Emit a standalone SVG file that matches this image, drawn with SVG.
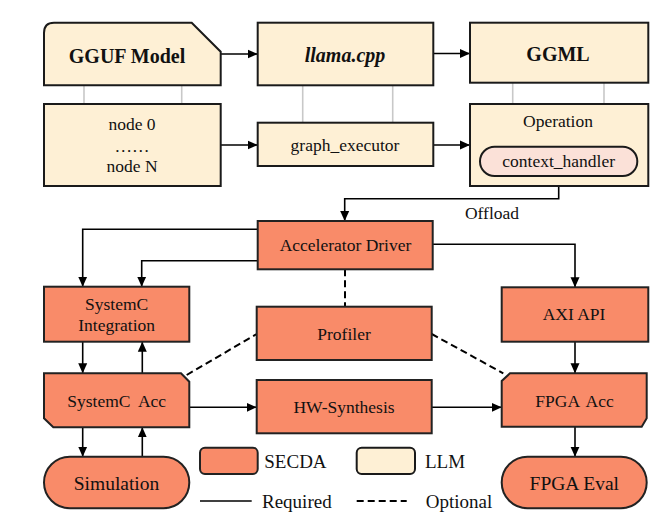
<svg xmlns="http://www.w3.org/2000/svg" width="667" height="527" viewBox="0 0 667 527">
<defs>
<marker id="ah" markerUnits="userSpaceOnUse" markerWidth="10" markerHeight="10" viewBox="0 0 10 10" refX="10" refY="5" orient="auto-start-reverse">
<path d="M0,0.5 L10,5 L0,9.5 Z" fill="#000"/>
</marker>
<style>
.llm{fill:#FEF0D5;stroke:#1a1a1a;stroke-width:2}
.sec{fill:#F98B69;stroke:#222;stroke-width:2}
.t{font-family:"Liberation Serif","Times New Roman",serif;fill:#111;text-anchor:middle;font-size:17.5px}
.b{font-weight:bold;font-size:20px}
.big{font-size:19.5px}
.lg{font-family:"Liberation Serif","Times New Roman",serif;fill:#111;font-size:19px}
.ar{fill:none;stroke:#000;stroke-width:1.6;marker-end:url(#ah)}
.ds{fill:none;stroke:#000;stroke-width:2;stroke-dasharray:7 4}
.gr{fill:none;stroke:#C8C8C8;stroke-width:1.6}
</style>
</defs>
<rect width="667" height="527" fill="#fff"/>

<g id="connectors">
<path class="gr" d="M84,85.3 V104 M181.7,85.3 V104 M302.7,85.3 V122.7 M392.7,85.3 V122.7 M512.7,82.7 V104 M604,82.7 V104"/>
<path class="ar" d="M220.7,54 H257.7"/>
<path class="ar" d="M433.3,53.5 H470"/>
<path class="ar" d="M220.7,145 H257.7"/>
<path class="ar" d="M433.3,145 H470"/>
<path class="ar" style="marker-start:url(#ah)" d="M344.7,221 V198.7 H558.7 V176"/>
<path class="ar" d="M257.7,229.3 H82.7 V286.7"/>
<path class="ar" d="M257.7,260.7 H141.7 V286.7"/>
<path class="ar" d="M432.7,244.3 H575 V287.3"/>
<path class="ds" d="M345,269.3 V306.7"/>
<path class="ar" d="M82.7,341.7 V373.3"/>
<path class="ar" d="M142.3,373.3 V341.7"/>
<path class="ar" d="M82.7,427.3 V456.7"/>
<path class="ar" d="M142.3,456.7 V427.3"/>
<path class="ar" d="M189.3,407.3 H256.7"/>
<path class="ar" d="M431.7,407.3 H501.7"/>
<path class="ar" d="M575,341.7 V373.3"/>
<path class="ar" d="M575,426.7 V456.7"/>
<path class="ds" d="M186.7,375 L256.7,334"/>
<path class="ds" d="M431.7,334 L503.3,373.3"/>
<text class="t" x="492" y="219" font-size="17">Offload</text>
</g>

<g id="gguf">
<path class="llm" d="M44,33 Q44,22.7 54,22.7 L191.7,22.7 L220.7,51.7 L220.7,85.3 L44,85.3 Z"/>
<text class="t b" x="127" y="63">GGUF Model</text>
</g>
<g id="llama">
<rect class="llm" x="257.7" y="22.7" width="175.6" height="62.6"/>
<text class="t b" x="345" y="62" font-style="italic">llama.cpp</text>
</g>
<g id="ggml">
<rect class="llm" x="470" y="22.7" width="178.3" height="60"/>
<text class="t b" x="558" y="61">GGML</text>
</g>
<g id="nodes">
<rect class="llm" x="44" y="104" width="176.7" height="82"/>
<text class="t" x="132" y="130">node 0</text>
<text class="t" x="132" y="151.5">……</text>
<text class="t" x="132" y="172">node N</text>
</g>
<g id="graph_executor">
<rect class="llm" x="257.7" y="122.7" width="175.6" height="43.3"/>
<text class="t" x="345" y="150.5">graph_executor</text>
</g>
<g id="operation">
<rect class="llm" x="470" y="104" width="178.3" height="82"/>
<text class="t" x="558" y="126.7">Operation</text>
<rect x="480" y="146.7" width="157.3" height="29.3" rx="14.6" fill="#FBE1D8" stroke="#1a1a1a" stroke-width="2"/>
<text class="t" x="558.7" y="167.3">context_handler</text>
</g>
<g id="accel_driver">
<rect class="sec" x="257.7" y="221" width="175" height="48.3"/>
<text class="t" x="345.5" y="251" font-size="18">Accelerator Driver</text>
</g>
<g id="systemc_integration">
<rect class="sec" x="44" y="286.7" width="145.3" height="55"/>
<text class="t" x="116.7" y="310" font-size="18">SystemC</text>
<text class="t" x="116.7" y="330.7" font-size="18">Integration</text>
</g>
<g id="profiler">
<rect class="sec" x="256.7" y="306.7" width="175" height="53.3"/>
<text class="t" x="344" y="340">Profiler</text>
</g>
<g id="axi_api">
<rect class="sec" x="501.7" y="287.3" width="146.6" height="54.4"/>
<text class="t" x="574" y="320" font-size="18">AXI API</text>
</g>
<g id="systemc_acc">
<path class="sec" d="M44,373.3 H181 L189.3,381.7 V427.3 H53.3 L44,418.3 Z"/>
<text class="t" x="116.7" y="406.7" font-size="18" word-spacing="4">SystemC Acc</text>
</g>
<g id="hw_synthesis">
<rect class="sec" x="256.7" y="380" width="175" height="53.3"/>
<text class="t" x="344" y="413.3">HW-Synthesis</text>
</g>
<g id="fpga_acc">
<path class="sec" d="M510,373.3 H646.7 V418.3 L641.7,426.7 H501.7 V381 Z"/>
<text class="t" x="574.5" y="406.7" font-size="18" word-spacing="3">FPGA Acc</text>
</g>
<g id="simulation">
<rect class="sec" x="44" y="456.7" width="145.3" height="51.6" rx="25.8"/>
<text class="t big" x="116.5" y="490">Simulation</text>
</g>
<g id="fpga_eval">
<rect class="sec" x="501.7" y="456.7" width="145" height="51.6" rx="25.8"/>
<text class="t big" x="574.3" y="490">FPGA Eval</text>
</g>

<g id="legend">
<rect class="sec" x="200" y="447.7" width="57.7" height="26.3" rx="5"/>
<text class="lg" x="264.3" y="468">SECDA</text>
<rect class="llm" x="356.7" y="447.7" width="58.3" height="26.3" rx="5"/>
<text class="lg" x="425" y="468">LLM</text>
<path d="M200,501 H251.7" stroke="#000" stroke-width="1.6"/>
<text class="lg" x="262" y="508">Required</text>
<path class="ds" d="M356.7,501 H406.7" stroke-width="1.6"/>
<text class="lg" x="425.7" y="508">Optional</text>
</g>
</svg>
